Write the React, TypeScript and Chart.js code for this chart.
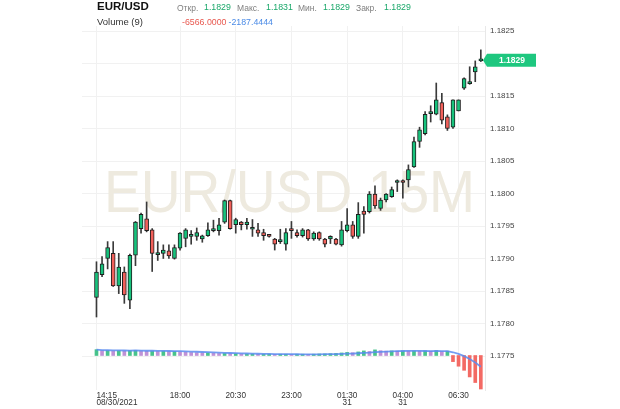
import { useEffect, useRef } from 'react';
import { Chart, registerables } from 'chart.js';

Chart.register(...registerables);

// ---- Data ----
const opens = [
  1.17840, 1.17875, 1.17900, 1.17908, 1.17858, 1.17879, 1.17836, 1.17905, 1.17946, 1.17961,
  1.17944, 1.17906, 1.17908, 1.17912, 1.17900, 1.17916, 1.17931, 1.17934, 1.17934, 1.17930,
  1.17935, 1.17943, 1.17943, 1.17956, 1.17989, 1.17952, 1.17956, 1.17952, 1.17945, 1.17944,
  1.17940, 1.17935, 1.17930, 1.17926, 1.17922, 1.17946, 1.17940, 1.17935, 1.17944, 1.17930,
  1.17940, 1.17930, 1.17930, 1.17930, 1.17921, 1.17943, 1.17952, 1.17934, 1.17973, 1.17972,
  1.17999, 1.17977, 1.17990, 1.17995, 1.18017, 1.18020, 1.18021, 1.18041, 1.18080, 1.18092,
  1.18123, 1.18122, 1.18140, 1.18118, 1.18102, 1.18127, 1.18162, 1.18169, 1.18187, 1.18204,
];
const highs = [
  1.17895, 1.17903, 1.17926, 1.17926, 1.17908, 1.17887, 1.17907, 1.17957, 1.17970, 1.17987,
  1.17946, 1.17926, 1.17921, 1.17921, 1.17921, 1.17940, 1.17946, 1.17943, 1.17947, 1.17936,
  1.17955, 1.17959, 1.17962, 1.17990, 1.17990, 1.17962, 1.17957, 1.17962, 1.17960, 1.17954,
  1.17945, 1.17936, 1.17931, 1.17945, 1.17946, 1.17957, 1.17944, 1.17946, 1.17945, 1.17941,
  1.17941, 1.17931, 1.17935, 1.17931, 1.17957, 1.17977, 1.17957, 1.17986, 1.17980, 1.18003,
  1.18012, 1.17993, 1.18000, 1.18010, 1.18021, 1.18021, 1.18044, 1.18087, 1.18102, 1.18126,
  1.18135, 1.18170, 1.18154, 1.18121, 1.18144, 1.18144, 1.18178, 1.18195, 1.18204, 1.18221,
];
const lows = [
  1.17810, 1.17872, 1.17884, 1.17857, 1.17846, 1.17831, 1.17823, 1.17889, 1.17939, 1.17941,
  1.17880, 1.17897, 1.17900, 1.17900, 1.17899, 1.17913, 1.17918, 1.17922, 1.17928, 1.17925,
  1.17934, 1.17941, 1.17936, 1.17954, 1.17945, 1.17939, 1.17944, 1.17945, 1.17934, 1.17934,
  1.17928, 1.17933, 1.17913, 1.17923, 1.17913, 1.17931, 1.17933, 1.17933, 1.17928, 1.17928,
  1.17928, 1.17918, 1.17923, 1.17921, 1.17919, 1.17941, 1.17931, 1.17931, 1.17939, 1.17970,
  1.17977, 1.17974, 1.17987, 1.17994, 1.18003, 1.17993, 1.18010, 1.18040, 1.18071, 1.18090,
  1.18110, 1.18121, 1.18107, 1.18097, 1.18100, 1.18127, 1.18160, 1.18168, 1.18172, 1.18203,
];
const closes = [
  1.17879, 1.17892, 1.17917, 1.17858, 1.17887, 1.17844, 1.17905, 1.17956, 1.17968, 1.17943,
  1.17908, 1.17907, 1.17913, 1.17904, 1.17917, 1.17939, 1.17944, 1.17936, 1.17940, 1.17935,
  1.17944, 1.17945, 1.17952, 1.17989, 1.17946, 1.17960, 1.17952, 1.17956, 1.17946, 1.17939,
  1.17935, 1.17934, 1.17922, 1.17927, 1.17940, 1.17943, 1.17935, 1.17944, 1.17930, 1.17939,
  1.17930, 1.17922, 1.17934, 1.17922, 1.17944, 1.17952, 1.17934, 1.17968, 1.17968, 1.17999,
  1.17981, 1.17990, 1.17999, 1.18006, 1.18020, 1.18017, 1.18037, 1.18080, 1.18098, 1.18122,
  1.18125, 1.18144, 1.18113, 1.18100, 1.18144, 1.18144, 1.18177, 1.18170, 1.18195, 1.18205,
];
const volumes = [
  1150, 950, 1000, 900, 950, 900, 950, 1000, 900, 850,
  900, 800, 850, 750, 800, 700, 650, 600, 550, 500,
  500, 450, 400, 400, 350, 350, 300, 300, 300, 250,
  250, 250, 200, 250, 250, 200, 250, 250, 200, 250,
  300, 300, 350, 400, 500, 600, 550, 700, 900, 800,
  1100, 950, 850, 900, 850, 900, 850, 900, 850, 900,
  850, 950, 779, 850, -1200, -2100, -2900, -4200, -5300, -6566,
];
const timeTickIndices = [0, 15, 25, 35, 45, 55, 65];
const timeTickLabels: string[][] = [
  ['14:15', '08/30/2021'],
  ['18:00'],
  ['20:30'],
  ['23:00'],
  ['01:30', '31'],
  ['04:00', '31'],
  ['06:30'],
];
const symbol = 'EUR/USD';
const watermark = 'EUR/USD 15M';
const ohlcLabels = ['Откр.', 'Макс.', 'Мин.', 'Закр.'];
const ohlcValues = ['1.1829', '1.1831', '1.1829', '1.1829'];
const volumeTitle = 'Volume (9)';
const volumeValue = '-6566.0000';
const volumeMAValue = '-2187.4444';
const lastPriceLabel = '1.1829';
const lowestPriceTick = 1.1775;

const MA_PERIOD = 9;
const volumeMA = volumes.map((_, i) => {
  const s = volumes.slice(Math.max(0, i - MA_PERIOD + 1), i + 1);
  return s.reduce((a, b) => a + b, 0) / s.length;
});

const GREEN = '#17c27c';
const RED = '#f2605a';
const FONT = 'Arial, "Liberation Sans", sans-serif';

const overlayPlugin = {
  id: 'overlay',
  beforeDatasetsDraw(chart: any) {
    const ctx = chart.ctx as CanvasRenderingContext2D;
    const { left, right } = chart.chartArea;
    ctx.save();
    ctx.font = `60px ${FONT}`;
    ctx.fillStyle = '#eeeadf';
    ctx.textAlign = 'center';
    ctx.textBaseline = 'alphabetic';
    ctx.translate((left + right) / 2 + 6, 212);
    ctx.scale(0.92, 1);
    ctx.fillText(watermark, 0, 0);
    ctx.restore();
  },
  afterDraw(chart: any) {
    const ctx = chart.ctx as CanvasRenderingContext2D;
    const xs = chart.scales.x;
    const ys = chart.scales.y;
    ctx.save();
    // header row 1
    ctx.textBaseline = 'alphabetic';
    ctx.textAlign = 'left';
    ctx.fillStyle = '#111';
    ctx.font = `bold 11.5px ${FONT}`;
    ctx.fillText(symbol, 97, 10);
    const labX = [177, 237, 298, 356];
    const valX = [204, 266, 323, 384];
    for (let i = 0; i < ohlcLabels.length; i++) {
      ctx.font = `8.5px ${FONT}`;
      ctx.fillStyle = '#808080';
      ctx.fillText(ohlcLabels[i], labX[i], 10.5);
      ctx.font = `8.8px ${FONT}`;
      ctx.fillStyle = '#1aa86a';
      ctx.fillText(ohlcValues[i], valX[i], 9.7);
    }
    // header row 2
    ctx.font = `9.5px ${FONT}`;
    ctx.fillStyle = '#333';
    ctx.fillText(volumeTitle, 97, 25.3);
    ctx.font = `8.8px ${FONT}`;
    ctx.fillStyle = '#e8584f';
    ctx.fillText(volumeValue, 182, 25);
    ctx.fillStyle = '#4b8be6';
    ctx.fillText(volumeMAValue, 228.5, 25);

    // time axis labels
    ctx.font = `8.2px ${FONT}`;
    ctx.fillStyle = '#333';
    ctx.textBaseline = 'middle';
    timeTickIndices.forEach((idx, k) => {
      const px = xs.getPixelForValue(idx);
      ctx.textAlign = k === 0 ? 'left' : 'center';
      timeTickLabels[k].forEach((line, j) => {
        ctx.fillText(line, px, 395.5 + j * 6.8);
      });
    });

    // last price badge
    const lastY = ys.getPixelForValue(closes[closes.length - 1]);
    const bx = chart.chartArea.right + 1;
    ctx.fillStyle = '#1ec77f';
    ctx.beginPath();
    ctx.moveTo(bx - 3, lastY);
    ctx.lineTo(bx + 1, lastY - 6.5);
    ctx.lineTo(bx + 50, lastY - 6.5);
    ctx.lineTo(bx + 50, lastY + 6.5);
    ctx.lineTo(bx + 1, lastY + 6.5);
    ctx.closePath();
    ctx.fill();
    ctx.fillStyle = '#ffffff';
    ctx.font = `bold 8.5px ${FONT}`;
    ctx.textAlign = 'center';
    ctx.textBaseline = 'middle';
    ctx.fillText(lastPriceLabel, bx + 26, lastY + 0.5);
    ctx.restore();
  },
};

export default function App() {
  const ref = useRef<HTMLCanvasElement | null>(null);

  useEffect(() => {
    if (!ref.current) return;
    const idx = closes.map((_, i) => i);
    const bodyColors = idx.map((i) => (closes[i] >= opens[i] ? GREEN : RED));
    const volColors = volumes.map((v, i) => {
      if (v < 0) return 'rgba(242,98,92,0.95)';
      if (i === 0 || v >= volumes[i - 1]) return 'rgba(40,185,120,0.85)';
      return 'rgba(170,110,200,0.75)';
    });

    const chart = new Chart(ref.current, {
      type: 'bar',
      data: {
        datasets: [
          {
            type: 'line',
            data: idx.map((i) => ({ x: i, y: volumeMA[i] })),
            yAxisID: 'yv',
            borderColor: 'rgba(90,140,240,0.85)',
            borderWidth: 1.8,
            pointRadius: 0,
            tension: 0,
            order: 0,
          } as any,
          {
            data: idx.map((i) => ({ x: i, y: [opens[i], closes[i]] })),
            yAxisID: 'y',
            backgroundColor: bodyColors,
            borderColor: '#1e1e1e',
            borderWidth: 1,
            borderSkipped: false,
            barThickness: 4,
            minBarLength: 2,
            grouped: false,
            order: 1,
          } as any,
          {
            data: idx.map((i) => ({ x: i, y: [lows[i], highs[i]] })),
            yAxisID: 'y',
            backgroundColor: '#3a3a3a',
            borderWidth: 0,
            barThickness: 1,
            grouped: false,
            order: 2,
          } as any,
          {
            data: idx.map((i) => ({ x: i, y: volumes[i] })),
            yAxisID: 'yv',
            backgroundColor: volColors,
            borderWidth: 0,
            barThickness: 3,
            grouped: false,
            order: 3,
          } as any,
        ],
      },
      options: {
        responsive: false,
        animation: false,
        devicePixelRatio: 1,
        layout: { padding: { left: 82, top: 26, right: 0, bottom: 0 } },
        plugins: { legend: { display: false }, tooltip: { enabled: false } },
        scales: {
          x: {
            type: 'linear',
            offset: false,
            min: -2.6,
            max: 69.75,
            grid: { color: '#f1f1f1', drawTicks: false, offset: false },
            border: { display: false },
            ticks: { display: false },
            afterBuildTicks: (s: any) => {
              s.ticks = timeTickIndices.map((v) => ({ value: v }));
            },
            afterFit: (s: any) => {
              s.height = 19;
            },
          },
          y: {
            type: 'linear',
            position: 'right',
            min: 1.176977,
            max: 1.182577,
            grid: { color: '#f1f1f1', drawTicks: false },
            border: { display: true, color: '#e8e8e8' },
            ticks: {
              stepSize: 0.0005,
              includeBounds: false,
              padding: 5,
              color: '#444',
              font: { size: 8, family: FONT },
              callback: (v: any) => Number(v).toFixed(4),
            },
            afterBuildTicks: (s: any) => {
              s.ticks = s.ticks.filter((t: any) => t.value > lowestPriceTick - 0.00005);
            },
            afterFit: (s: any) => {
              s.width = 135;
            },
          },
          yv: {
            type: 'linear',
            display: false,
            min: -6762,
            max: 64580,
          },
        },
      } as any,
      plugins: [overlayPlugin],
    });
    return () => chart.destroy();
  }, []);

  return (
    <div style={{ position: 'absolute', left: 0, top: 0, width: 620, height: 409, background: '#fff' }}>
      <canvas ref={ref} width={620} height={409} style={{ display: 'block' }} />
    </div>
  );
}
